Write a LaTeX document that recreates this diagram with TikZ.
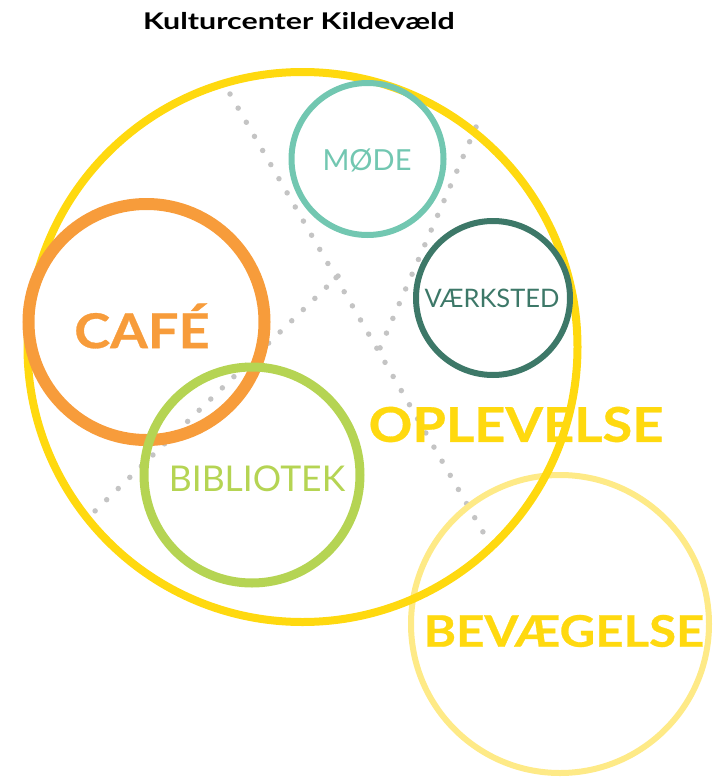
\documentclass[tikz,border=0pt]{standalone}
\usepackage{fontspec}
\setmainfont{Lato}
\newfontfamily\titlefont[FakeStretch=1.32]{Lato}
\newfontfamily\widefont[FakeStretch=1.13, FakeBold=0.6]{Lato}
\definecolor{kyellow}{HTML}{FFD90F}
\definecolor{klight}{HTML}{FEEA87}
\definecolor{korange}{HTML}{F79C3B}
\definecolor{klime}{HTML}{B5D453}
\definecolor{kteal}{HTML}{72C7B1}
\definecolor{kdark}{HTML}{3D7868}
\definecolor{kgray}{HTML}{C4C4C4}
\begin{document}
\begin{tikzpicture}[x=1pt, y=-1pt,
  ring/.style={shape=circle, draw, inner sep=0pt},
  dots/.style={draw=kgray, line width=5.5pt, line cap=round, dash pattern=on 0pt off #1},
  heavy/.style={font=\widefont\bfseries\fontsize{#1}{#1}\selectfont},
  thin/.style={font=\fontsize{#1}{#1}\selectfont}]
\useasboundingbox (0,0) rectangle (713,779);
\node[font=\titlefont\bfseries\fontsize{23}{23}\selectfont] (title) at (299,21) {Kulturcenter Kildevæld};
% dotted dividers
\coordinate (a1) at (230,94);
\coordinate (a2) at (483,532);
\coordinate (b1) at (476,127);
\coordinate (b2) at (380,348);
\coordinate (c1) at (338,276);
\coordinate (c2) at (95,511);
\draw[dots=16.31pt] (a1) -- (a2);
\draw[dots=16.05pt] (b1) -- (b2);
\draw[dots=16.09pt] (c1) -- (c2);
% circles
\node[ring, draw=klight, line width=6pt, minimum size=298pt] (bev) at (560,624) {};
\node[ring, draw=kyellow, line width=8pt, minimum size=550pt] (opl) at (302.5,347) {};
\node[ring, draw=kteal, line width=6pt, minimum size=152pt] (mode) at (367.5,159) {};
\node[ring, draw=kdark, line width=6pt, minimum size=154pt] (vaerk) at (493,298) {};
\node[ring, draw=korange, line width=12pt, minimum size=236pt] (cafe) at (146.5,322) {};
\node[ring, draw=klime, line width=9pt, minimum size=216pt] (bib) at (252,475) {};
% labels
\node[thin=29, text=kteal] (modeT) at (367,160) {MØDE};
\node[thin=25.5, text=kdark] (vaerkT) at (492,298) {VÆRKSTED};
\node[thin=35.5, text=klime] (bibT) at (257,479) {BIBLIOTEK};
\node[heavy=48, text=korange] (cafeT) at (142,326) {CAFÉ};
\node[heavy=48, text=kyellow] (oplT) at (516,424.5) {OPLEVELSE};
\node[heavy=43.5, text=kyellow] (bevT) at (564,631) {BEVÆGELSE};
\end{tikzpicture}
\end{document}
